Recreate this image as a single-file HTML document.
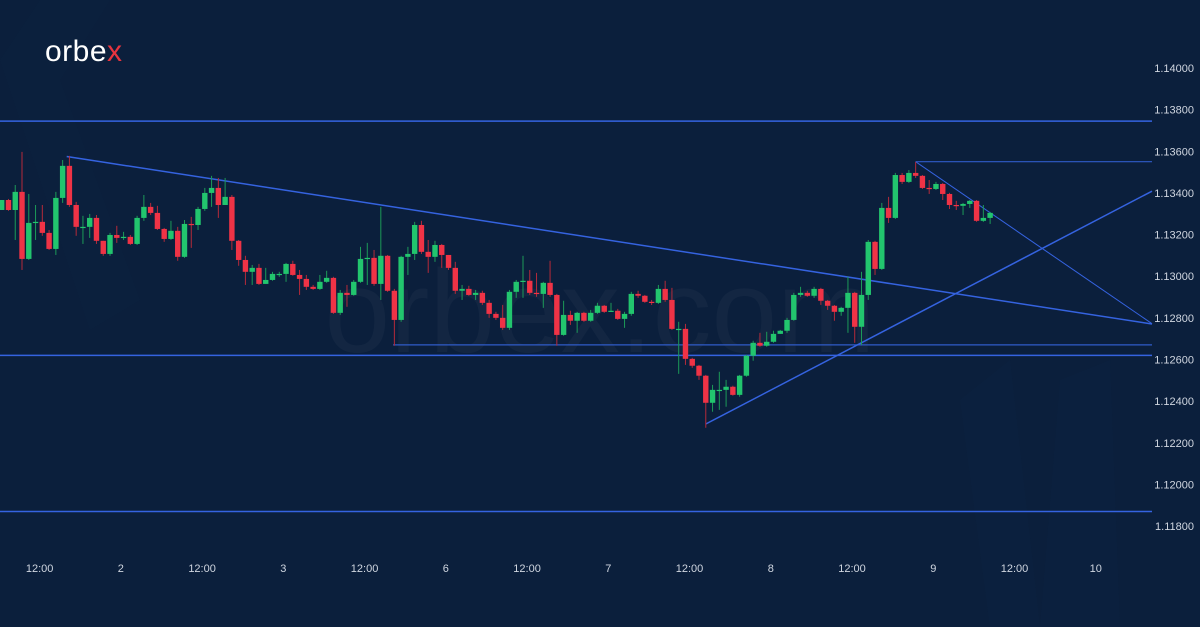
<!DOCTYPE html>
<html><head><meta charset="utf-8">
<style>
html,body{margin:0;padding:0;background:#0b1f3c;}
svg{display:block;}
text{font-family:"Liberation Sans",sans-serif;}
</style></head>
<body>
<svg id="chart" width="1200" height="627" viewBox="0 0 1200 627" xmlns="http://www.w3.org/2000/svg">
  <rect x="0" y="0" width="1200" height="627" fill="#0b1f3c"/>
  <g opacity="0.35">
    <polygon points="0,60 40,0 110,0 60,80 140,300 90,330" fill="#102a4c" opacity="0.45"/>
    <polygon points="960,400 1010,360 1040,627 990,627" fill="#13294a" opacity="0.6"/>
    <polygon points="1040,627 1060,380 1110,360 1120,627" fill="#112848" opacity="0.6"/>
  </g>
  <text x="600" y="352" text-anchor="middle" font-size="118" fill="#ffffff" fill-opacity="0.035" style="font-family:'Liberation Sans',sans-serif">orbex.com</text>
  <g>
    <text x="45" y="61" font-size="30" fill="#ffffff" letter-spacing="0.5">orbe<tspan fill="#e8343f">x</tspan></text>
  </g>
  <g id="yaxis"></g>
  <g id="xaxis"></g>
  <g id="lines"></g>
  <g id="candles"></g>
</svg>
<script>
const closes=[1.13366,1.13318,1.13405,1.13083,1.13256,1.13261,1.13208,1.13131,1.13376,1.13530,1.13342,1.13237,1.13237,1.13280,1.13170,1.13107,1.13198,1.13184,1.13189,1.13155,1.13280,1.13333,1.13304,1.13227,1.13179,1.13218,1.13093,1.13251,1.13246,1.13323,1.13400,1.13424,1.13342,1.13381,1.13170,1.13078,1.13021,1.13040,1.12963,1.12982,1.13011,1.13011,1.13059,1.13006,1.12987,1.12949,1.12939,1.12973,1.12992,1.12824,1.12920,1.12910,1.12973,1.13083,1.13088,1.12963,1.13098,1.12930,1.12790,1.13093,1.13107,1.13246,1.13117,1.13093,1.13150,1.13102,1.13040,1.12930,1.12939,1.12910,1.12920,1.12872,1.12819,1.12800,1.12752,1.12925,1.12973,1.12978,1.12920,1.12915,1.12968,1.12910,1.12718,1.12814,1.12786,1.12824,1.12786,1.12824,1.12858,1.12829,1.12834,1.12795,1.12819,1.12915,1.12906,1.12877,1.12872,1.12939,1.12886,1.12747,1.12747,1.12603,1.12570,1.12522,1.12392,1.12454,1.12454,1.12469,1.12430,1.12522,1.12618,1.12680,1.12666,1.12685,1.12723,1.12738,1.12790,1.12910,1.12920,1.12906,1.12939,1.12882,1.12858,1.12829,1.12848,1.12920,1.12757,1.12910,1.13165,1.13035,1.13328,1.13280,1.13486,1.13453,1.13496,1.13482,1.13424,1.13419,1.13443,1.13395,1.13342,1.13338,1.13347,1.13362,1.13266,1.13280,1.13304];
const opens=[1.13318,1.13366,1.13318,1.13405,1.13083,1.13256,1.13261,1.13208,1.13131,1.13376,1.13530,1.13342,1.13237,1.13237,1.13280,1.13170,1.13107,1.13198,1.13184,1.13189,1.13155,1.13280,1.13333,1.13304,1.13227,1.13179,1.13218,1.13093,1.13251,1.13246,1.13323,1.13400,1.13424,1.13342,1.13381,1.13170,1.13078,1.13021,1.13040,1.12963,1.12982,1.13011,1.13011,1.13059,1.13006,1.12987,1.12949,1.12939,1.12973,1.12992,1.12824,1.12920,1.12910,1.12973,1.13083,1.13088,1.12963,1.13098,1.12930,1.12790,1.13093,1.13107,1.13246,1.13117,1.13093,1.13150,1.13102,1.13040,1.12930,1.12939,1.12910,1.12920,1.12872,1.12819,1.12800,1.12752,1.12925,1.12973,1.12978,1.12920,1.12915,1.12968,1.12910,1.12718,1.12814,1.12786,1.12824,1.12786,1.12824,1.12858,1.12829,1.12834,1.12795,1.12819,1.12915,1.12906,1.12877,1.12872,1.12939,1.12886,1.12747,1.12747,1.12603,1.12570,1.12522,1.12392,1.12454,1.12454,1.12469,1.12430,1.12522,1.12618,1.12680,1.12666,1.12685,1.12723,1.12738,1.12790,1.12910,1.12920,1.12906,1.12939,1.12882,1.12858,1.12829,1.12848,1.12920,1.12757,1.12910,1.13165,1.13035,1.13328,1.13280,1.13486,1.13453,1.13496,1.13482,1.13424,1.13419,1.13443,1.13395,1.13342,1.13338,1.13347,1.13362,1.13266,1.13280];
const highs=[1.13366,1.13371,1.13438,1.13597,1.13395,1.13342,1.13342,1.13222,1.13405,1.13558,1.13578,1.13357,1.13290,1.13299,1.13294,1.13170,1.13208,1.13242,1.13213,1.13198,1.13290,1.13390,1.13352,1.13338,1.13232,1.13266,1.13237,1.13270,1.13285,1.13333,1.13424,1.13482,1.13472,1.13472,1.13390,1.13174,1.13098,1.13054,1.13059,1.13040,1.13021,1.13021,1.13064,1.13074,1.13030,1.13006,1.12958,1.13006,1.13026,1.12997,1.12934,1.12958,1.12982,1.13141,1.13160,1.13126,1.13333,1.13102,1.12939,1.13098,1.13141,1.13261,1.13266,1.13174,1.13170,1.13155,1.13098,1.13069,1.12958,1.12954,1.12934,1.12930,1.12886,1.12829,1.12862,1.12934,1.12982,1.13098,1.13030,1.13016,1.12973,1.13074,1.12915,1.12882,1.12834,1.12829,1.12829,1.12838,1.12872,1.12862,1.12872,1.12843,1.12829,1.12925,1.12930,1.12910,1.12886,1.12958,1.12978,1.12944,1.12781,1.12771,1.12608,1.12574,1.12526,1.12478,1.12541,1.12502,1.12474,1.12526,1.12622,1.12690,1.12728,1.12733,1.12738,1.12742,1.12800,1.12920,1.12949,1.12930,1.12949,1.12944,1.12886,1.12862,1.12853,1.12997,1.12925,1.13021,1.13174,1.13170,1.13352,1.13381,1.13496,1.13496,1.13510,1.13549,1.13486,1.13462,1.13453,1.13448,1.13400,1.13362,1.13352,1.13366,1.13366,1.13342,1.13309];
const lows=[1.13318,1.13314,1.13174,1.13030,1.13078,1.13174,1.13194,1.13126,1.13102,1.13352,1.13333,1.13194,1.13155,1.13184,1.13155,1.13098,1.13098,1.13160,1.13174,1.13150,1.13150,1.13266,1.13294,1.13222,1.13165,1.13174,1.13074,1.13088,1.13136,1.13222,1.13314,1.13333,1.13280,1.13342,1.13126,1.13050,1.12958,1.12958,1.12958,1.12963,1.12978,1.12997,1.12973,1.13002,1.12910,1.12934,1.12934,1.12934,1.12968,1.12819,1.12814,1.12853,1.12906,1.12968,1.12958,1.12954,1.12886,1.12925,1.12666,1.12781,1.13006,1.13078,1.13107,1.13016,1.13069,1.13040,1.13030,1.12915,1.12886,1.12906,1.12886,1.12862,1.12800,1.12790,1.12742,1.12742,1.12896,1.12896,1.12910,1.12901,1.12848,1.12901,1.12666,1.12714,1.12766,1.12728,1.12781,1.12781,1.12819,1.12824,1.12829,1.12790,1.12752,1.12810,1.12896,1.12872,1.12862,1.12867,1.12877,1.12742,1.12531,1.12574,1.12560,1.12502,1.12272,1.12349,1.12358,1.12373,1.12426,1.12421,1.12517,1.12594,1.12661,1.12661,1.12680,1.12723,1.12728,1.12786,1.12901,1.12901,1.12896,1.12862,1.12838,1.12786,1.12810,1.12728,1.12680,1.12670,1.12886,1.13006,1.13030,1.13256,1.13275,1.13443,1.13448,1.13472,1.13419,1.13395,1.13414,1.13366,1.13323,1.13318,1.13294,1.13328,1.13261,1.13261,1.13251];
const yTicks=[1.140,1.138,1.136,1.134,1.132,1.130,1.128,1.126,1.124,1.122,1.120,1.118];
const xTickHours=[5.6,17.6,29.6,41.6,53.6,65.6,77.6,89.6,101.6,113.6,125.6,137.6,149.6,161.6];
const xTickLabels=["12:00","2","12:00","3","12:00","6","12:00","7","12:00","8","12:00","9","12:00","10"];
const levelPrices=[1.13745,1.12620,1.11870,1.12670,1.13550];
const levelStarts=[-1,-1,-1,57.8,135];
const trendA=[9.6,1.13575,170,1.12770];
const trendB=[104,1.12290,170,1.13410];
const trendC=[135,1.13550,170,1.12770];

const NS="http://www.w3.org/2000/svg";
const X0=1.7, DX=6.77, PLOT_R=1152;
function x(h){return X0+h*DX;}
function y(p){return 68+(1.140-p)/0.002*41.64;}
function mk(tag,attrs,parent){const e=document.createElementNS(NS,tag);for(const k in attrs)e.setAttribute(k,attrs[k]);parent.appendChild(e);return e;}

const ya=document.getElementById('yaxis');
yTicks.forEach(t=>{
  const e=mk('text',{x:1194,y:y(t)+4,'text-anchor':'end','font-size':11,fill:'#d0d6e0'},ya);
  
  
  e.textContent=t.toFixed(5);
});
const xa=document.getElementById('xaxis');
xTickHours.forEach((h,i)=>{
  const e=mk('text',{x:x(h),y:572,'text-anchor':'middle','font-size':11,fill:'#d0d6e0'},xa);
  
  
  e.textContent=xTickLabels[i];
});

const lg=document.getElementById('lines');
levelPrices.forEach((p,i)=>{
  const x1=levelStarts[i]<0?0:x(levelStarts[i]);
  const dim=i>=3;
  const e=mk('line',{x1:x1,y1:y(p),x2:PLOT_R,y2:y(p),stroke:dim?'#2f5bc8':'#3563e0','stroke-width':dim?1.2:1.5},lg);
  
  
});
function trend(t,name,w){
  const x1=x(t[0]),y1=y(t[1]);
  let x2=x(t[2]),y2=y(t[3]);
  if(x2>PLOT_R){const f=(PLOT_R-x1)/(x2-x1);y2=y1+(y2-y1)*f;x2=PLOT_R;}
  const e=mk('line',{x1:x1,y1:y1,x2:x2,y2:y2,stroke:'#3563e0','stroke-width':w},lg);
  
  
}
trend(trendA,'descending-trendline',1.5);
trend(trendB,'ascending-trendline',1.5);
trend(trendC,'short-descending-trendline',1);

const cg=document.getElementById('candles');
closes.forEach((c,i)=>{
  const o=opens[i];
  const up=c>=o;
  const col=up?'#22c56e':'#ef3346';
  const cx=x(i);
  const hi=Math.max(highs[i],o,c), lo=Math.min(lows[i],o,c);
  const w=mk('line',{x1:cx,y1:y(hi),x2:cx,y2:y(lo),stroke:up?'#1c9a58':'#b52a3a','stroke-width':1},cg);
  
  
  const top=y(Math.max(o,c)), bot=y(Math.min(o,c));
  const b=mk('rect',{x:cx-2.7,y:top,width:5.4,height:Math.max(1.2,bot-top),fill:col},cg);
  
  
});
</script>
</body></html>
